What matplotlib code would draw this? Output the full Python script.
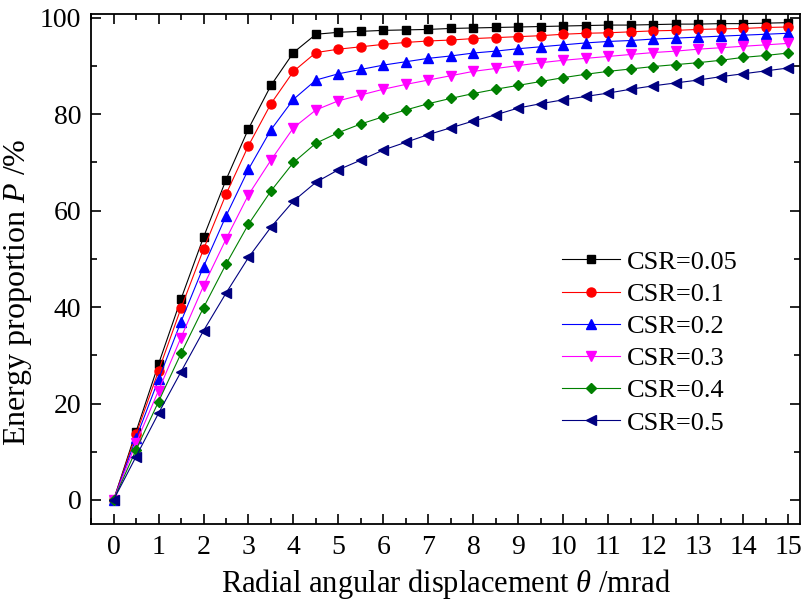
import numpy as np
import matplotlib.pyplot as plt
from matplotlib.ticker import MultipleLocator

plt.rcParams['font.family'] = ['Liberation Serif', 'DejaVu Serif']
plt.rcParams['mathtext.fontset'] = 'custom'
plt.rcParams['mathtext.it'] = 'Liberation Serif:italic'
plt.rcParams['mathtext.rm'] = 'Liberation Serif'

# radial angular displacement (mrad)
theta = np.arange(0, 15.01, 0.5)

# energy proportion (%)
csr_005 = [0, 14.2, 28.2, 41.7, 54.5, 66.4, 77.0, 86.0, 92.8, 96.6, 97.0, 97.2, 97.4, 97.5, 97.6, 97.8,
           97.9, 98.0, 98.1, 98.2, 98.3, 98.4, 98.5, 98.5, 98.6, 98.7, 98.7, 98.8, 98.8, 98.9, 99.0]
csr_01 = [0, 13.6, 26.8, 39.8, 52.0, 63.4, 73.5, 82.2, 88.9, 92.8, 93.5, 94.0, 94.5, 94.9, 95.2, 95.4,
          95.7, 95.9, 96.1, 96.3, 96.6, 96.8, 96.9, 97.1, 97.3, 97.4, 97.6, 97.7, 97.8, 98.0, 98.1]
csr_02 = [0, 12.8, 25.0, 37.0, 48.4, 58.9, 68.6, 76.8, 83.1, 87.1, 88.4, 89.3, 90.2, 90.9, 91.6, 92.1,
          92.7, 93.1, 93.6, 94.0, 94.4, 94.8, 95.1, 95.3, 95.6, 95.8, 96.0, 96.2, 96.4, 96.6, 96.8]
csr_03 = [0, 11.8, 22.7, 33.7, 44.4, 54.1, 63.3, 70.5, 77.2, 80.9, 82.8, 84.0, 85.2, 86.2, 87.1, 88.0,
          88.9, 89.5, 90.1, 90.7, 91.2, 91.6, 92.0, 92.4, 92.8, 93.1, 93.5, 93.8, 94.1, 94.4, 94.7]
csr_04 = [0, 10.4, 20.4, 30.4, 39.9, 48.9, 57.2, 64.1, 70.0, 74.0, 76.2, 78.0, 79.5, 80.9, 82.2, 83.3,
          84.3, 85.2, 86.0, 86.8, 87.6, 88.3, 88.9, 89.4, 89.9, 90.3, 90.7, 91.2, 91.8, 92.2, 92.7]
csr_05 = [0, 9.0, 18.0, 26.6, 35.1, 42.9, 50.3, 56.6, 62.0, 65.9, 68.5, 70.5, 72.6, 74.2, 75.8, 77.2,
          78.6, 79.9, 81.3, 82.2, 83.0, 83.7, 84.4, 85.2, 85.9, 86.5, 87.1, 87.8, 88.4, 89.0, 89.6]

series = [csr_005, csr_01, csr_02, csr_03, csr_04, csr_05]
labels = ['CSR=0.05', 'CSR=0.1', 'CSR=0.2', 'CSR=0.3', 'CSR=0.4', 'CSR=0.5']
colors = ['black', 'red', 'blue', 'magenta', '#008000', '#000080']
markers = ['s', 'o', '^', 'v', 'D', '<']
msizes = [6, 6.5, 7, 7, 5.5, 7]

fig = plt.figure(figsize=(8.06, 6.08), dpi=100)
ax = fig.add_axes([0.113, 0.138, 0.880, 0.839])

for y, lab, c, m, ms in zip(series, labels, colors, markers, msizes):
    ax.plot(theta, y, color=c, marker=m, markersize=ms, linewidth=0.8, label=lab)

ax.set_xlim(-0.5, 15.27)
ax.set_ylim(-5, 100.8)
ax.xaxis.set_major_locator(MultipleLocator(1))
ax.xaxis.set_minor_locator(MultipleLocator(0.5))
ax.yaxis.set_major_locator(MultipleLocator(20))
ax.yaxis.set_minor_locator(MultipleLocator(10))
ax.tick_params(which='both', direction='in', top=True, right=True, width=1.2, labelsize=20)
ax.tick_params(which='major', length=7)
ax.tick_params(which='minor', length=4)
ax.tick_params(axis='x', pad=8)
ax.tick_params(axis='y', pad=7)
for sp in ax.spines.values():
    sp.set_linewidth(1.3)

ax.set_xlabel(r'Radial angular displacement $\it{\theta}$ /mrad', fontsize=22, labelpad=5)
ax.set_ylabel(r'Energy proportion $\it{P}$ /%', fontsize=23)
ax.yaxis.set_label_coords(-0.081, 0.455)

ax.legend(loc='upper left', bbox_to_anchor=(0.664, 0.537), frameon=False, fontsize=19,
          handlelength=2.2, handletextpad=0.27, labelspacing=0.33, borderpad=0, borderaxespad=0)

fig.savefig('out.png', dpi=100)
